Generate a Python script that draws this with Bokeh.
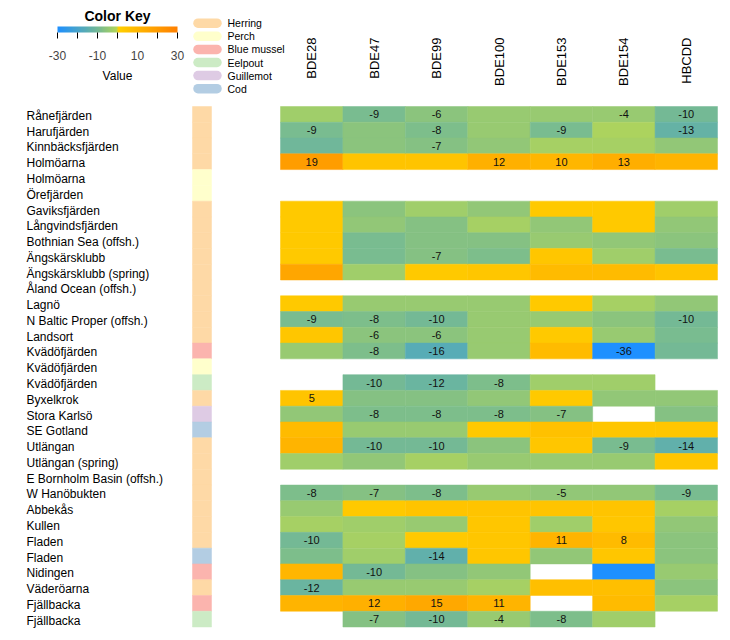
import numpy as np
from bokeh.plotting import figure
from bokeh.models import ColumnDataSource, LinearColorMapper, ColorBar, FixedTicker, Range1d
from bokeh.transform import transform
from bokeh.core.properties import value
from bokeh.embed import file_html
from bokeh.resources import INLINE

# ---------------- data ----------------
compounds = ["BDE28", "BDE47", "BDE99", "BDE100", "BDE153", "BDE154", "HBCDD"]

sites = ["Rånefjärden", "Harufjärden", "Kinnbäcksfjärden", "Holmöarna", "Holmöarna",
         "Örefjärden", "Gaviksfjärden", "Långvindsfjärden", "Bothnian Sea (offsh.)",
         "Ängskärsklubb", "Ängskärsklubb (spring)", "Åland Ocean (offsh.)", "Lagnö",
         "N Baltic Proper (offsh.)", "Landsort", "Kvädöfjärden", "Kvädöfjärden",
         "Kvädöfjärden", "Byxelkrok", "Stora Karlsö", "SE Gotland", "Utlängan",
         "Utlängan (spring)", "E Bornholm Basin (offsh.)", "W Hanöbukten", "Abbekås",
         "Kullen", "Fladen", "Fladen", "Nidingen", "Väderöarna", "Fjällbacka", "Fjällbacka"]

site_species = ["Herring", "Herring", "Herring", "Herring", "Perch", "Perch", "Herring",
                "Herring", "Herring", "Herring", "Herring", "Herring", "Herring", "Herring",
                "Herring", "Blue mussel", "Perch", "Eelpout", "Herring", "Guillemot", "Cod",
                "Herring", "Herring", "Herring", "Herring", "Herring", "Herring", "Herring",
                "Cod", "Blue mussel", "Herring", "Blue mussel", "Eelpout"]

species = ["Herring", "Perch", "Blue mussel", "Eelpout", "Guillemot", "Cod"]
species_colors = ["#FED9A6", "#FFFFCC", "#FBB4AE", "#CCEBC5", "#DECBE4", "#B3CDE3"]

N = None
# trend values (% per year), one list per compound, rows in site order
bde28 = [-3, -9, -11, 19, N, N, 3, 3, 3, 3, 16, N, 3, -9, 4, -4, N, N, 5, -5, 8, 11, -3, N,
         -8, -4, -2, -10, -8, 10, -12, 11, N]
bde47 = [-9, -6, -6, 5, N, N, -6, -5, -9, -9, -3, N, -4, -8, -6, -8, N, -10, -7, -8, -4, -10,
         -5, N, -7, 3, -3, -2, -3, -10, -4, 12, -7]
bde99 = [-6, -8, -7, 5, N, N, -3, -7, -7, -7, 3, N, -4, -10, -6, -16, N, -12, -7, -8, -4, -10,
         -2, N, -8, 5, -4, 3, -14, -7, -4, 15, -10]
bde100 = [-4, -4, -5, 12, N, N, -5, -2, -7, -8, 4, N, -4, -4, -4, -4, N, -8, -5, -8, 3, -6,
          -4, N, -4, 5, 4, 4, 4, -5, -2, 11, -4]
bde153 = [-4, -9, -2, 10, N, N, 3, -5, -4, 4, 8, N, 3, -4, 3, 8, N, -3, 3, -7, 6, 4, -4, N,
          -5, 5, -3, 11, -5, N, 7, N, -8]
bde154 = [-4, -1, -2, 13, N, N, 3, 3, -5, -3, 8, N, -2, -6, -4, -36, N, -3, -5, N, 4, -9, -4,
          N, -5, 5, 4, 8, 4, -32, 7, 8, -3]
hbcdd = [-10, -13, -5, 11, N, N, -3, -5, -6, -9, 5, N, -5, -10, -9, -10, N, N, -5, -7, 4, -14,
         4, N, -9, -2, -5, -6, -6, -4, -6, -2, N]

# 1 = trend labelled in the cell (significant)
sig28 = [0, 1, 0, 1, 0, 0, 0, 0, 0, 0, 0, 0, 0, 1, 0, 0, 0, 0, 1, 0, 0, 0, 0, 0, 1, 0, 0, 1, 0,
         0, 1, 0, 0]
sig47 = [1, 0, 0, 0, 0, 0, 0, 0, 0, 0, 0, 0, 0, 1, 1, 1, 0, 1, 0, 1, 0, 1, 0, 0, 1, 0, 0, 0, 0,
         1, 0, 1, 1]
sig99 = [1, 1, 1, 0, 0, 0, 0, 0, 0, 1, 0, 0, 0, 1, 1, 1, 0, 1, 0, 1, 0, 1, 0, 0, 1, 0, 0, 0, 1,
         0, 0, 1, 1]
sig100 = [0, 0, 0, 1, 0, 0, 0, 0, 0, 0, 0, 0, 0, 0, 0, 0, 0, 1, 0, 1, 0, 0, 0, 0, 0, 0, 0, 0, 0,
          0, 0, 1, 1]
sig153 = [0, 1, 0, 1, 0, 0, 0, 0, 0, 0, 0, 0, 0, 0, 0, 0, 0, 0, 0, 1, 0, 0, 0, 0, 1, 0, 0, 1, 0,
          0, 0, 0, 1]
sig154 = [1, 0, 0, 1, 0, 0, 0, 0, 0, 0, 0, 0, 0, 0, 0, 1, 0, 0, 0, 0, 0, 1, 0, 0, 0, 0, 0, 1, 0,
          0, 0, 0, 0]
sigHB = [1, 1, 0, 0, 0, 0, 0, 0, 0, 0, 0, 0, 0, 1, 0, 0, 0, 0, 0, 0, 0, 1, 0, 0, 1, 0, 0, 0, 0,
         0, 0, 0, 0]

key_ticks = [-30, -20, -10, 0, 10, 20, 30]
key_labels = {-30: "-30", -20: "", -10: "-10", 0: "", 10: "10", 20: "", 30: "30"}

# ---------------- layout helpers (page pixels -> data units) ----------------
X0, X1 = 280.0, 717.0
Y0, Y1 = 106.0, 626.5
CW = (X1 - X0) / len(compounds)
RH = (Y1 - Y0) / len(sites)


def xu(px):
    return (px - X0) / CW - 0.5


def yu(py):
    return (py - Y0) / RH - 0.5


W, H = 722, 632
FONT = value("Liberation Sans")

# colour scale
stops_v = [-30, -15, -8, -0.5, 0.5, 30]
stops_c = ["#1E90FF", "#5CAEB0", "#7EBE8A", "#B0D55A", "#FFD000", "#FF8000"]
rgb = np.array([[int(c[i:i + 2], 16) for i in (1, 3, 5)] for c in stops_c], dtype=float)
grid = np.linspace(-30, 30, 256)
palette = ["#%02X%02X%02X" % tuple(int(round(np.interp(g, stops_v, rgb[:, k]))) for k in range(3))
           for g in grid]
mapper = LinearColorMapper(palette=palette, low=-30, high=30,
                           low_color=palette[0], high_color=palette[-1], nan_color="white")

# ---------------- sources ----------------
cols = [bde28, bde47, bde99, bde100, bde153, bde154, hbcdd]
sigs = [sig28, sig47, sig99, sig100, sig153, sig154, sigHB]
cx, cy, cv = [], [], []
tx, ty, tt = [], [], []
for j, (vals, sg) in enumerate(zip(cols, sigs)):
    for i, v in enumerate(vals):
        if v is None:
            continue
        cx.append(j)
        cy.append(i)
        cv.append(v)
        if sg[i]:
            tx.append(j)
            ty.append(i)
            tt.append(str(v))
cells = ColumnDataSource(dict(x=cx, y=cy, v=cv))
labels = ColumnDataSource(dict(x=tx, y=ty, t=tt))

p = figure(width=W, height=H, output_backend="svg", toolbar_location=None,
           x_range=Range1d(xu(0), xu(W)), y_range=Range1d(yu(H), yu(0)),
           x_axis_location=None, y_axis_location=None, min_border=0,
           outline_line_color=None, background_fill_color="white", border_fill_color="white")
p.xgrid.visible = False
p.ygrid.visible = False

# heatmap
p.rect(x="x", y="y", width=1, height=1, source=cells,
       fill_color=transform("v", mapper), line_color=transform("v", mapper), line_width=0.5)
p.text(x="x", y="y", text="t", source=labels, text_align="center", text_baseline="middle",
       text_font=FONT, text_font_size="11px", text_color="#111111")

# species strip
rows = list(range(len(sites)))
strip_colors = [species_colors[species.index(s)] for s in site_species]
p.rect(x=xu(201.5), y=rows, width=19 / CW, height=1, fill_color=strip_colors,
       line_color=strip_colors, line_width=0.5)

# row labels (drawn slightly below the cell centres, as in the original)
label_shift = 1.5 / RH
p.text(x=xu(26), y=[r + label_shift for r in rows], text=sites, text_align="left",
       text_baseline="middle", text_font=FONT, text_font_size="12px", text_color="black")

# column labels
p.text(x=list(range(len(compounds))), y=yu(37), text=compounds, angle=np.pi / 2,
       text_align="right", text_baseline="middle", text_font=FONT, text_font_size="13px",
       text_color="black")

# species legend
ly = [yu(22.7 + 13.1 * k) for k in range(len(species))]
p.segment(x0=xu(197.5), y0=ly, x1=xu(216.5), y1=ly, line_color=species_colors,
          line_width=9.5, line_cap="round")
p.text(x=xu(227), y=ly, text=species, text_align="left", text_baseline="middle",
       text_font=FONT, text_font_size="10.5px", text_color="black")

# colour key
p.text(x=[xu(117)], y=[yu(15)], text=["Color Key"], text_align="center", text_baseline="middle",
       text_font=FONT, text_font_size="14px", text_font_style="bold", text_color="black")
p.text(x=[xu(117)], y=[yu(75)], text=["Value"], text_align="center", text_baseline="middle",
       text_font=FONT, text_font_size="12px", text_color="black")
cb = ColorBar(color_mapper=mapper, orientation="horizontal", location=(57, 570),
              width=120, height=6, padding=0, ticker=FixedTicker(ticks=key_ticks),
              major_label_overrides=key_labels, major_tick_out=6, major_tick_in=0,
              minor_tick_out=0, minor_tick_in=0, major_tick_line_color="black",
              label_standoff=12, major_label_text_font="Liberation Sans",
              major_label_text_font_size="12px", bar_line_color=None,
              background_fill_alpha=0, border_line_color=None)
p.add_layout(cb)

open("out.html", "w").write(file_html(p, INLINE))
